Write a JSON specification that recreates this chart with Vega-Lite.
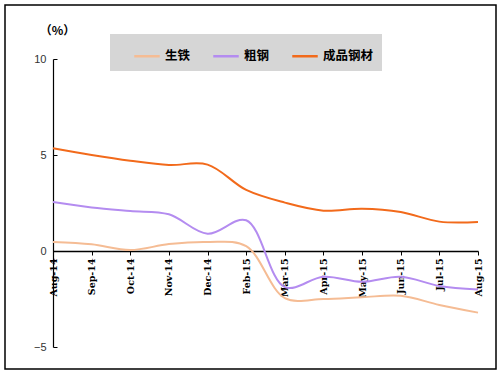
{
  "$schema": "https://vega.github.io/schema/vega-lite/v6.json",
  "autosize": "none",
  "width": 491,
  "height": 364,
  "padding": {"left": 5, "top": 5, "right": 7, "bottom": 8},
  "background": "white",
  "config": {
    "view": {"stroke": "#000", "strokeWidth": 1.5},
    "axis": {"grid": false}
  },
  "data": {
    "values": [
      {"month": "Aug-14", "series": "生铁", "value": 0.47},
      {"month": "Sep-14", "series": "生铁", "value": 0.35},
      {"month": "Oct-14", "series": "生铁", "value": 0.05},
      {"month": "Nov-14", "series": "生铁", "value": 0.36},
      {"month": "Dec-14", "series": "生铁", "value": 0.47},
      {"month": "Feb-15", "series": "生铁", "value": 0.25},
      {"month": "Mar-15", "series": "生铁", "value": -2.45},
      {"month": "Apr-15", "series": "生铁", "value": -2.5},
      {"month": "May-15", "series": "生铁", "value": -2.41},
      {"month": "Jun-15", "series": "生铁", "value": -2.33},
      {"month": "Jul-15", "series": "生铁", "value": -2.81},
      {"month": "Aug-15", "series": "生铁", "value": -3.21},
      {"month": "Aug-14", "series": "粗钢", "value": 2.55},
      {"month": "Sep-14", "series": "粗钢", "value": 2.27},
      {"month": "Oct-14", "series": "粗钢", "value": 2.08},
      {"month": "Nov-14", "series": "粗钢", "value": 1.91},
      {"month": "Dec-14", "series": "粗钢", "value": 0.9},
      {"month": "Feb-15", "series": "粗钢", "value": 1.6},
      {"month": "Mar-15", "series": "粗钢", "value": -1.88},
      {"month": "Apr-15", "series": "粗钢", "value": -1.34},
      {"month": "May-15", "series": "粗钢", "value": -1.6},
      {"month": "Jun-15", "series": "粗钢", "value": -1.34},
      {"month": "Jul-15", "series": "粗钢", "value": -1.82},
      {"month": "Aug-15", "series": "粗钢", "value": -2.0},
      {"month": "Aug-14", "series": "成品钢材", "value": 5.35},
      {"month": "Sep-14", "series": "成品钢材", "value": 5.0},
      {"month": "Oct-14", "series": "成品钢材", "value": 4.7},
      {"month": "Nov-14", "series": "成品钢材", "value": 4.48},
      {"month": "Dec-14", "series": "成品钢材", "value": 4.5},
      {"month": "Feb-15", "series": "成品钢材", "value": 3.18},
      {"month": "Mar-15", "series": "成品钢材", "value": 2.52},
      {"month": "Apr-15", "series": "成品钢材", "value": 2.1},
      {"month": "May-15", "series": "成品钢材", "value": 2.2},
      {"month": "Jun-15", "series": "成品钢材", "value": 2.03},
      {"month": "Jul-15", "series": "成品钢材", "value": 1.53},
      {"month": "Aug-15", "series": "成品钢材", "value": 1.51}
    ]
  },
  "mark": {"type": "line", "interpolate": "catmull-rom", "strokeWidth": 2},
  "encoding": {
    "x": {
      "field": "month",
      "type": "ordinal",
      "sort": ["Aug-14","Sep-14","Oct-14","Nov-14","Dec-14","Feb-15","Mar-15","Apr-15","May-15","Jun-15","Jul-15","Aug-15"],
      "scale": {"type": "point", "range": [48, 473], "padding": 0},
      "axis": {
        "title": null,
        "offset": -118,
        "labelAngle": 270,
        "labelFont": "DejaVu Serif",
        "labelFontWeight": "bold",
        "labelFontSize": 9.5,
        "labelColor": "#000",
        "labelPadding": 3,
        "tickSize": 4,
        "tickColor": "#000",
        "domainColor": "#000",
        "domainWidth": 1.5,
        "labelOverlap": false
      }
    },
    "y": {
      "field": "value",
      "type": "quantitative",
      "scale": {"domain": [-5, 10], "nice": false, "zero": false, "range": [342, 54]},
      "axis": {
        "title": "（%）",
        "titleAngle": 0,
        "titleX": 4,
        "titleY": 32,
        "titleAlign": "center",
        "titleFont": "Noto Sans CJK SC",
        "titleFontWeight": "bold",
        "titleFontSize": 12,
        "offset": -48,
        "values": [-5, 0, 5, 10],
        "labelFont": "Liberation Sans",
        "labelFontSize": 11,
        "labelColor": "#333",
        "labelPadding": 11,
        "tickSize": -4,
        "tickColor": "#000",
        "domainColor": "#000",
        "domainWidth": 1.2
      }
    },
    "color": {
      "field": "series",
      "type": "nominal",
      "scale": {"domain": ["生铁", "粗钢", "成品钢材"], "range": ["#F5BC94", "#B48CF0", "#F26A1B"]},
      "legend": {
        "title": null,
        "orient": "none",
        "legendX": 105,
        "legendY": 29,
        "direction": "horizontal",
        "fillColor": "#D6D6D6",
        "padding": 8,
        "symbolType": "stroke",
        "symbolSize": 650,
        "symbolStrokeWidth": 2.5,
        "symbolOffset": 15,
        "labelOffset": 4,
        "columnPadding": 6,
        "labelFont": "Noto Sans CJK SC",
        "labelFontWeight": "bold",
        "labelFontSize": 12.5,
        "labelColor": "#000"
      }
    }
  }
}
